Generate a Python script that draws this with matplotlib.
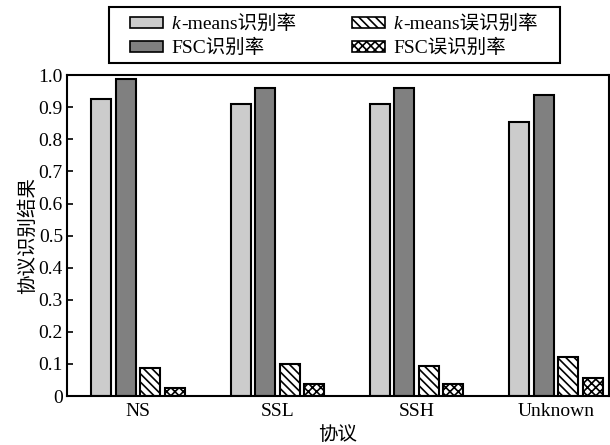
import numpy as np
import matplotlib
matplotlib.use("Agg")
import matplotlib.pyplot as plt
from matplotlib.patches import Patch, Rectangle
from matplotlib.legend_handler import HandlerPatch
from matplotlib.text import Text

plt.rcParams["font.family"] = ["Liberation Serif", "Noto Sans CJK SC"]
plt.rcParams["hatch.linewidth"] = 1.2

protocols = ["NS", "SSL", "SSH", "Unknown"]
kmeans_rate = [0.925, 0.911, 0.911, 0.854]
fsc_rate = [0.988, 0.960, 0.960, 0.938]
kmeans_err = [0.087, 0.100, 0.094, 0.121]
fsc_err = [0.026, 0.038, 0.038, 0.056]

labels = ["-means识别率", "FSC识别率", "-means误识别率", "FSC误识别率"]
italic_k = [True, False, True, False]
series = [kmeans_rate, fsc_rate, kmeans_err, fsc_err]
colors = ["#cccccc", "#808080", "white", "white"]
hatches = [None, None, "\\\\\\\\", "xxxx"]


class PatchWithK(HandlerPatch):
    # legend patch followed by an italic "k" that leads the label text
    def create_artists(self, legend, orig_handle, xdescent, ydescent,
                       width, height, fontsize, trans):
        arts = super().create_artists(legend, orig_handle, xdescent, ydescent,
                                      width, height, fontsize, trans)
        k = Text(width - xdescent + 0.45 * fontsize, 0, "k", fontsize=fontsize,
                 style="italic", ha="left", va="baseline", transform=trans)
        return arts + [k]


fig = plt.figure(figsize=(6.1, 4.45), dpi=100)
ax = fig.add_axes([0.110, 0.110, 0.888, 0.721])

x = np.arange(len(protocols))
width = 0.144
step = 0.176
offsets = (np.arange(4) - 1.5) * step

for vals, off, c, h in zip(series, offsets, colors, hatches):
    ax.bar(x + off, vals, width, color=c, edgecolor="black", linewidth=1.5, hatch=h)

ax.set_xlim(-0.51, 3.38)
ax.set_ylim(0, 1.0)
ax.set_yticks(np.arange(0, 1.01, 0.1))
ax.set_yticklabels(["0"] + [f"{v:.1f}" for v in np.arange(0.1, 1.01, 0.1)])
ax.set_xticks(x)
ax.set_xticklabels(protocols)
ax.tick_params(axis="y", direction="in", length=4, width=1.2, labelsize=14, pad=3)
ax.tick_params(axis="x", length=0, labelsize=14, pad=5)
for s in ax.spines.values():
    s.set_linewidth(1.5)

ax.set_ylabel("协议识别结果", fontsize=14, labelpad=1)
ax.set_xlabel("协议", fontsize=14, labelpad=4)

# legend box drawn by hand so the entries can sit inset from it
fig.add_artist(Rectangle((0.1787, 0.8584), 0.739, 0.1258, transform=fig.transFigure,
                         facecolor="white", edgecolor="black", linewidth=1.5))

handles = [Patch(facecolor=c, edgecolor="black", linewidth=1.2, hatch=h)
           for c, h in zip(colors, hatches)]
handler_map = {hd: PatchWithK() for hd, k in zip(handles, italic_k) if k}
leg = fig.legend(handles, labels, ncol=2, loc="upper left",
                 bbox_to_anchor=(130 / 610, 1 - 15 / 445),
                 fontsize=14, frameon=False, handler_map=handler_map,
                 handlelength=1.7, handleheight=0.52, handletextpad=0.45,
                 borderpad=0, borderaxespad=0,
                 labelspacing=0.3, columnspacing=3.35)

# push the "-means..." labels right to make room for the italic k
for t, k in zip(leg.get_texts(), italic_k):
    if k:
        t.set_x(9)

fig.savefig("out.png", dpi=100)
